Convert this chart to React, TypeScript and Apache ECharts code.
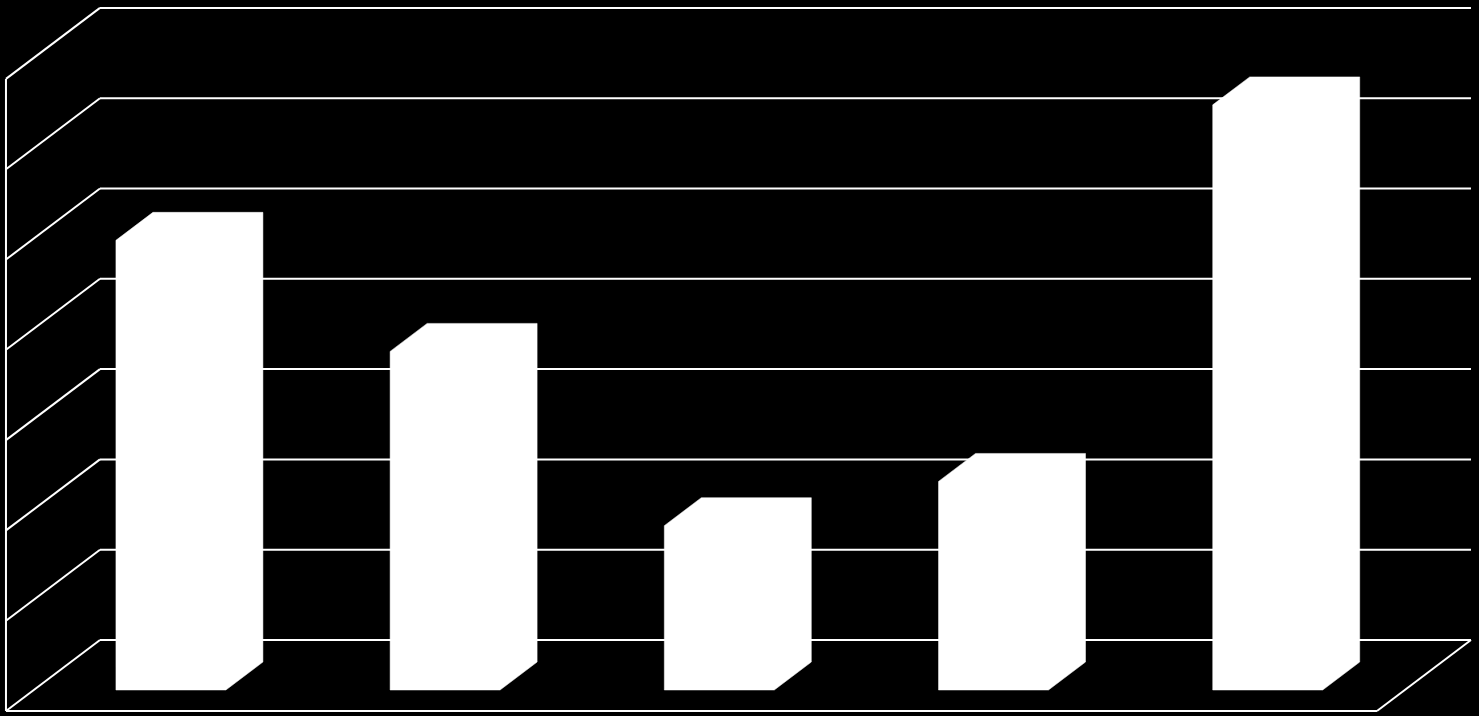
import React, { useEffect, useRef } from "react";
import * as echarts from "echarts";

// ---- data ----
const categories = ["1", "2", "3", "4", "5"];
const values = [4.98, 3.75, 1.82, 2.31, 6.48];
const gridTicks = [0, 1, 2, 3, 4, 5, 6, 7];
const axisMax = 7;

// ---- 3D projection (layout) ----
const FLOOR_DX = 94; // full floor depth, horizontal
const FLOOR_DY = -71; // full floor depth, vertical
const BAR_FRONT = 0.296; // depth fraction where the bar front face sits
const BAR_DEPTH = 0.394; // bar depth as fraction of floor depth
const BAR_WIDTH_RATIO = 0.401; // bar width relative to category band

const LINE_COLOR = "#ffffff";

export default function App() {
  const ref = useRef<HTMLDivElement>(null);

  useEffect(() => {
    const chart = echarts.init(ref.current as HTMLDivElement, null, { renderer: "svg" });

    const line = (x1: number, y1: number, x2: number, y2: number) => ({
      type: "line",
      shape: { x1, y1, x2, y2 },
      style: { stroke: LINE_COLOR, lineWidth: 2 },
    });

    const fx = -BAR_FRONT * FLOOR_DX;
    const fy = -BAR_FRONT * FLOOR_DY;
    const bx = (1 - BAR_FRONT) * FLOOR_DX;
    const by = (1 - BAR_FRONT) * FLOOR_DY;

    chart.setOption({
      animation: false,
      backgroundColor: "#000000",
      grid: { left: 33.8, right: 74.2, top: 57.9, bottom: 26 },
      xAxis: { type: "category", data: categories, show: false },
      yAxis: { type: "value", min: 0, max: axisMax, interval: 1, show: false },
      series: [
        {
          type: "custom",
          name: "walls",
          clip: false,
          z: 1,
          silent: true,
          data: gridTicks.map((v) => [0, v]),
          renderItem: (params: any, api: any) => {
            const cs = params.coordSys;
            const v = api.value(1);
            const y = api.coord([0, v])[1];
            const left = cs.x;
            const right = cs.x + cs.width;
            const children: any[] = [
              line(left + bx, y + by, right + bx, y + by),
              line(left + bx, y + by, left + fx, y + fy),
            ];
            if (v === 0) {
              const yTop = api.coord([0, axisMax])[1];
              children.push(line(left + fx, y + fy, right + fx, y + fy));
              children.push(line(right + fx, y + fy, right + bx, y + by));
              children.push(line(left + fx, y + fy, left + fx, yTop + fy));
            }
            return { type: "group", children };
          },
        },
        {
          type: "custom",
          name: "bars",
          clip: false,
          z: 2,
          data: values.map((v, i) => [i, v]),
          renderItem: (params: any, api: any) => {
            const idx = api.value(0);
            const [cx, yTop] = api.coord([idx, api.value(1)]);
            const yBase = api.coord([idx, 0])[1];
            const band = api.size([1, 0])[0];
            const bw = band * BAR_WIDTH_RATIO;
            const xl = cx - bw / 2;
            const xr = cx + bw / 2;
            const dx = BAR_DEPTH * FLOOR_DX;
            const dy = BAR_DEPTH * FLOOR_DY;
            return {
              type: "polygon",
              shape: {
                points: [
                  [xl, yBase],
                  [xl, yTop],
                  [xl + dx, yTop + dy],
                  [xr + dx, yTop + dy],
                  [xr + dx, yBase + dy],
                  [xr, yBase],
                ],
              },
              style: { fill: "#ffffff", stroke: "#ffffff", lineWidth: 0.5 },
            };
          },
        },
      ],
    });

    return () => chart.dispose();
  }, []);

  return (
    <div
      ref={ref}
      style={{ position: "fixed", left: 0, top: 0, width: 1479, height: 716, background: "#000" }}
    />
  );
}
